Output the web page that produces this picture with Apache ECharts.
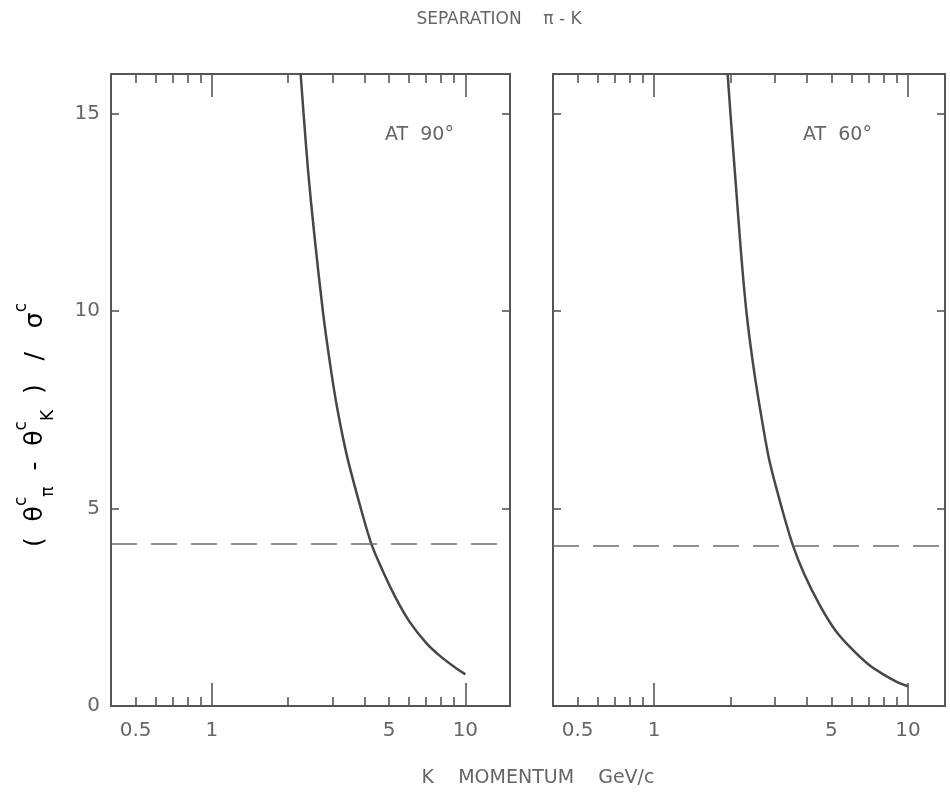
<!DOCTYPE html>
<html>
<head>
<meta charset="utf-8">
<script src="https://cdn.jsdelivr.net/npm/echarts@6/dist/echarts.min.js"></script>
<style>
  html, body { margin: 0; padding: 0; background: #ffffff; }
  #chart { width: 950px; height: 796px; }
</style>
</head>
<body>
<div id="chart"></div>
<script>
// K momentum (GeV/c) against pi-K Cherenkov-angle separation (in sigma), at 90 degrees
const momentum90 = [2.24, 2.3, 2.4, 2.53, 2.74, 2.92, 3.12, 3.42, 3.87, 4.26, 4.7, 5.3, 6.0, 7.0, 8.0, 9.0, 10.0];
const separation90 = [16.0, 15.0, 13.5, 12.0, 10.0, 8.7, 7.55, 6.3, 5.0, 4.1, 3.45, 2.75, 2.15, 1.6, 1.25, 1.0, 0.8];

// same quantity at 60 degrees
const momentum60 = [1.95, 2.0, 2.1, 2.2, 2.31, 2.45, 2.62, 2.85, 3.19, 3.51, 3.9, 4.5, 5.2, 6.0, 7.0, 8.0, 9.0, 10.0];
const separation60 = [16.0, 15.0, 13.2, 11.5, 10.0, 8.7, 7.5, 6.2, 5.0, 4.1, 3.35, 2.55, 1.9, 1.45, 1.05, 0.8, 0.62, 0.5];

// dashed separation level in each panel
const cutLevel90 = 4.1;
const cutLevel60 = 4.05;

// axis ticks and labels
const xMinorTicks = [0.5, 0.6, 0.7, 0.8, 0.9, 2, 3, 4, 5, 6, 7, 8, 9];
const xMajorTicks = [1, 10];
const xTickLabels = [0.5, 1, 5, 10];
const yTickValues = [0, 5, 10, 15];
const panelLabels = ['AT  90°', 'AT  60°'];

const ink = '#565656';
const textInk = '#666666';
const font = 'DejaVu Sans';

const pairs = (xs, ys) => xs.map((x, i) => [x, ys[i]]);

function xAxisDef(gridIndex, min, max, position, ticks, len, withLabels) {
  return {
    type: 'log',
    logBase: 10,
    gridIndex: gridIndex,
    position: position,
    min: min,
    max: max,
    axisLine: { show: true, onZero: false, lineStyle: { color: ink, width: 2 } },
    axisTick: { show: true, inside: true, length: len, customValues: ticks,
      lineStyle: { color: ink, width: 1.6 } },
    axisLabel: withLabels ? {
      show: true, customValues: xTickLabels, margin: 15,
      color: textInk, fontFamily: font, fontSize: 20,
      formatter: v => String(Math.round(v * 10) / 10)
    } : { show: false },
    splitLine: { show: false },
    minorTick: { show: false },
    minorSplitLine: { show: false }
  };
}

function yAxisDef(gridIndex, position, withLabels) {
  return {
    type: 'value',
    gridIndex: gridIndex,
    position: position,
    min: 0,
    max: 16,
    interval: 5,
    axisLine: { show: true, onZero: false, lineStyle: { color: ink, width: 2 } },
    axisTick: { show: true, inside: true, length: 8, customValues: yTickValues,
      lineStyle: { color: ink, width: 1.6 } },
    axisLabel: withLabels ? {
      show: true, customValues: yTickValues, margin: 11,
      color: textInk, fontFamily: font, fontSize: 20
    } : { show: false },
    splitLine: { show: false }
  };
}

function curveSeries(name, xIndex, yIndex, data, level) {
  return {
    name: name,
    type: 'line',
    xAxisIndex: xIndex,
    yAxisIndex: yIndex,
    data: data,
    smooth: 0.3,
    showSymbol: false,
    symbol: 'none',
    clip: true,
    lineStyle: { color: '#474747', width: 2.5 },
    markLine: {
      silent: true,
      symbol: 'none',
      label: { show: false },
      lineStyle: { color: '#6a6a6a', width: 1.5, type: [26, 14] },
      data: [{ yAxis: level }]
    }
  };
}

function label(text, x, y, size, align) {
  return {
    type: 'text', x: x, y: y,
    style: { text: text, fill: textInk, font: size + 'px ' + font,
      textAlign: align || 'center', textVerticalAlign: 'middle' }
  };
}

const chart = echarts.init(document.getElementById('chart'), null, { renderer: 'canvas' });

chart.setOption({
  backgroundColor: '#ffffff',
  animation: false,
  grid: [
    { left: 111, top: 74, width: 399, height: 632 },
    { left: 553, top: 74, width: 392, height: 632 }
  ],
  xAxis: [
    xAxisDef(0, 0.4, 15, 'bottom', xMinorTicks, 9, true),
    xAxisDef(0, 0.4, 15, 'bottom', xMajorTicks, 23, false),
    xAxisDef(0, 0.4, 15, 'top', xMinorTicks, 9, false),
    xAxisDef(0, 0.4, 15, 'top', xMajorTicks, 23, false),
    xAxisDef(1, 0.4, 14, 'bottom', xMinorTicks, 9, true),
    xAxisDef(1, 0.4, 14, 'bottom', xMajorTicks, 23, false),
    xAxisDef(1, 0.4, 14, 'top', xMinorTicks, 9, false),
    xAxisDef(1, 0.4, 14, 'top', xMajorTicks, 23, false)
  ],
  yAxis: [
    yAxisDef(0, 'left', true),
    yAxisDef(0, 'right', false),
    yAxisDef(1, 'left', false),
    yAxisDef(1, 'right', false)
  ],
  series: [
    curveSeries('90', 0, 0, pairs(momentum90, separation90), cutLevel90),
    curveSeries('60', 4, 2, pairs(momentum60, separation60), cutLevel60)
  ],
  graphic: [
    label('SEPARATION    π - K', 499, 20, 17),
    label('K    MOMENTUM    GeV/c', 538, 778, 19),
    label(panelLabels[0], 385, 135, 19, 'left'),
    label(panelLabels[1], 803, 135, 19, 'left'),
    {
      type: 'text', x: 35, y: 425, rotation: Math.PI / 2,
      style: {
        text: '{b|(  θ}{sup|c}{sub|π}{b|  -  θ}{sup|c}{sub|K}{b|  )   /   σ}{sup|c}',
        align: 'center', verticalAlign: 'middle',
        rich: {
          b: { fontFamily: font, fontSize: 25, color: textInk, lineHeight: 44, verticalAlign: 'middle' },
          sup: { fontFamily: font, fontSize: 17, color: textInk, lineHeight: 20, verticalAlign: 'top' },
          sub: { fontFamily: font, fontSize: 17, color: textInk, lineHeight: 20, verticalAlign: 'bottom' }
        }
      }
    }
  ]
});
</script>
</body>
</html>
